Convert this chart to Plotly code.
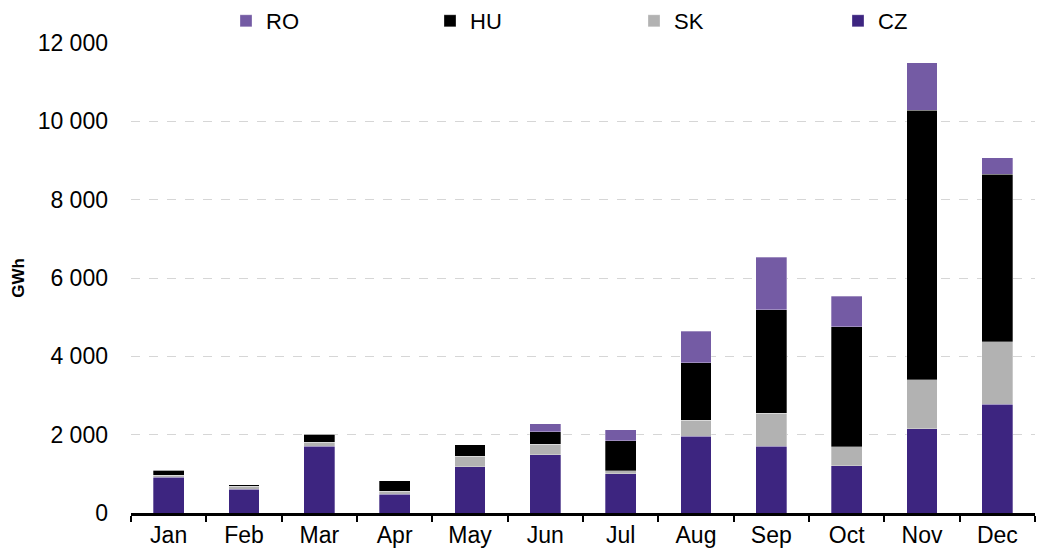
import plotly.graph_objects as go

months = ["Jan", "Feb", "Mar", "Apr", "May", "Jun", "Jul", "Aug", "Sep", "Oct", "Nov", "Dec"]
cz = [910, 605, 1700, 475, 1175, 1490, 1005, 1960, 1700, 1210, 2150, 2780]
sk = [60, 75, 110, 80, 280, 265, 70, 410, 845, 485, 1250, 1590]
hu = [120, 45, 205, 270, 290, 315, 765, 1460, 2640, 3055, 6885, 4280]
ro = [0, 0, 0, 0, 0, 215, 280, 810, 1345, 785, 1215, 420]

y_ticks = [0, 2000, 4000, 6000, 8000, 10000, 12000]

colors = {"CZ": "#3D2580", "SK": "#B2B2B2", "HU": "#000000", "RO": "#745BA4"}

fig = go.Figure()
for name, vals in [("CZ", cz), ("SK", sk), ("HU", hu), ("RO", ro)]:
    fig.add_trace(go.Bar(
        x=months, y=vals, name=name,
        marker=dict(color=colors[name], line=dict(color="rgba(255,255,255,0.6)", width=0.5)),
    ))

font_family = "Liberation Sans, Arial, sans-serif"
fig.update_layout(
    barmode="stack",
    bargap=0.59,
    width=1040, height=551,
    margin=dict(l=131, r=5, t=43, b=38, autoexpand=False),
    plot_bgcolor="white", paper_bgcolor="white",
    separators=", ",
    font=dict(family=font_family, size=23, color="black"),
    legend=dict(
        orientation="h", traceorder="reversed",
        xref="container", yref="container",
        x=226 / 1040, y=1.0, xanchor="left", yanchor="top",
        itemwidth=30, entrywidth=159,
        font=dict(size=22), bgcolor="rgba(0,0,0,0)",
        itemclick=False,
    ),
    showlegend=True,
)
fig.update_xaxes(
    showline=True, linecolor="black", linewidth=2.5,
    ticks="outside", tickson="boundaries", ticklen=6, tickcolor="black", tickwidth=2,
    showgrid=False,
)
fig.update_yaxes(
    range=[0, 12000], tickvals=y_ticks, tickformat=",d",
    showgrid=True, gridcolor="#D6D6D6", griddash="dash", gridwidth=1,
    zeroline=False, showline=False,
    ticklabelstandoff=22,
    title=dict(text="<b>GWh</b>", font=dict(size=17), standoff=8),
)
fig.write_html("out.html", config={"displayModeBar": False},
               post_script="document.body.style.margin='0';")
